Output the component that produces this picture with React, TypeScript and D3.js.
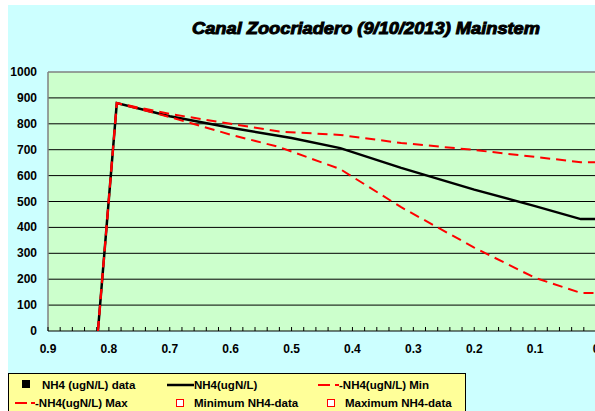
import React from "react";
import * as d3 from "d3";

const title = "Canal Zoocriadero (9/10/2013) Mainstem";
const yTicks = [0, 100, 200, 300, 400, 500, 600, 700, 800, 900, 1000];
const xTicks = [0.9, 0.8, 0.7, 0.6, 0.5, 0.4, 0.3, 0.2, 0.1, 0];
const xTickLabels = ["0.9", "0.8", "0.7", "0.6", "0.5", "0.4", "0.3", "0.2", "0.1", "0"];

const kmModel = [0.818, 0.787, 0.7, 0.6, 0.5, 0.42, 0.32, 0.2, 0.1, 0.025, 0];
const nh4Model = [0, 880, 829, 785, 745, 706, 630, 546, 482, 432, 432];
const kmMin = [0.818, 0.787, 0.7, 0.6, 0.52, 0.42, 0.32, 0.2, 0.1, 0.025, 0];
const nh4Min = [0, 880, 826, 758, 710, 625, 478, 322, 205, 147, 147];
const kmMax = [0.818, 0.787, 0.7, 0.6, 0.52, 0.42, 0.32, 0.2, 0.1, 0.025, 0];
const nh4Max = [0, 880, 838, 800, 770, 757, 726, 699, 672, 652, 652];

const legendRow1 = ["NH4 (ugN/L) data", "NH4(ugN/L)", "-NH4(ugN/L) Min"];
const legendRow2 = ["-NH4(ugN/L) Max", "Minimum NH4-data", "Maximum NH4-data"];

const W = 595;
const H = 411;
const L = 48, T = 72, R = 596, B = 331;

export default function App() {
  const x = d3.scaleLinear().domain([0.9, 0]).range([L, R]);
  const y = d3.scaleLinear().domain([0, 1000]).range([B, T]);
  const line = d3
    .line<[number, number]>()
    .x((d) => x(d[0]))
    .y((d) => y(d[1]));
  const model = kmModel.map((k, i) => [k, nh4Model[i]] as [number, number]);
  const mn = kmMin.map((k, i) => [k, nh4Min[i]] as [number, number]);
  const mx = kmMax.map((k, i) => [k, nh4Max[i]] as [number, number]);
  const minorTicks = d3.range(0, 46).map((i) => 0.9 - i * 0.02);
  const font = "Arial, 'Liberation Sans', sans-serif";

  return (
    <svg
      width={W}
      height={H}
      style={{ position: "absolute", left: 0, top: 0 }}
      fontFamily={font}
    >
      <rect x={0} y={0} width={W} height={H} fill="#ffffff" />
      <rect x={8} y={5} width={W - 8} height={H - 5} fill="#CCFFFF" />
      <text
        x={366}
        y={34}
        textAnchor="middle"
        fontSize={17}
        fontWeight="bold"
        fontStyle="italic"
        stroke="#000"
        strokeWidth={1}
        fill="#000"
        textLength={348}
        lengthAdjust="spacingAndGlyphs"
      >
        {title}
      </text>
      <rect x={L} y={T} width={R - L} height={B - T} fill="#CCFFCC" />
      {yTicks.slice(1, -1).map((t) => (
        <line key={t} x1={L} x2={R} y1={y(t)} y2={y(t)} stroke="#000" strokeWidth={1} />
      ))}
      <line x1={L} x2={R} y1={T} y2={T} stroke="#808080" strokeWidth={1.5} />
      <line x1={L} x2={L} y1={T} y2={B} stroke="#808080" strokeWidth={1.5} />
      <line x1={L} x2={R} y1={B} y2={B} stroke="#000" strokeWidth={1} />
      {minorTicks.map((t, i) => (
        <line key={i} x1={x(t)} x2={x(t)} y1={B} y2={B - 4} stroke="#000" strokeWidth={1} />
      ))}
      {yTicks.map((t) => (
        <text key={t} x={37} y={y(t) + 4} textAnchor="end" fontSize={12} fontWeight="bold">
          {t}
        </text>
      ))}
      {xTicks.map((t, i) => (
        <text key={t} x={x(t)} y={353} textAnchor="middle" fontSize={12} fontWeight="bold">
          {xTickLabels[i]}
        </text>
      ))}
      <path d={line(model) || ""} fill="none" stroke="#000" strokeWidth={2.5} strokeLinejoin="miter" />
      <path d={line(mn) || ""} fill="none" stroke="#FF0000" strokeWidth={2} strokeDasharray="10,6" />
      <path d={line(mx) || ""} fill="none" stroke="#FF0000" strokeWidth={2} strokeDasharray="10,6" />

      <rect x={8.5} y={373.5} width={457} height={45} fill="#FFFF99" stroke="#000" strokeWidth={1} />
      <g fontSize={11.5} fontWeight="bold">
        <rect x={22} y={380} width={8} height={8} fill="#000" />
        <text x={42} y={389}>{legendRow1[0]}</text>
        <line x1={167} x2={194} y1={385} y2={385} stroke="#000" strokeWidth={2.5} />
        <text x={194} y={389}>{legendRow1[1]}</text>
        <line x1={318} x2={330} y1={385} y2={385} stroke="#FF0000" strokeWidth={2} />
        <line x1={335} x2={339} y1={385} y2={385} stroke="#FF0000" strokeWidth={2} />
        <text x={339} y={389}>{legendRow1[2]}</text>

        <line x1={15} x2={27} y1={403} y2={403} stroke="#FF0000" strokeWidth={2} />
        <line x1={31} x2={35} y1={403} y2={403} stroke="#FF0000" strokeWidth={2} />
        <text x={35} y={407}>{legendRow2[0]}</text>
        <rect x={176.5} y={399.5} width={7} height={7} fill="#fff" stroke="#FF0000" strokeWidth={1} />
        <text x={194} y={407}>{legendRow2[1]}</text>
        <rect x={327.5} y={399.5} width={7} height={7} fill="#fff" stroke="#FF0000" strokeWidth={1} />
        <text x={345} y={407}>{legendRow2[2]}</text>
      </g>
    </svg>
  );
}
